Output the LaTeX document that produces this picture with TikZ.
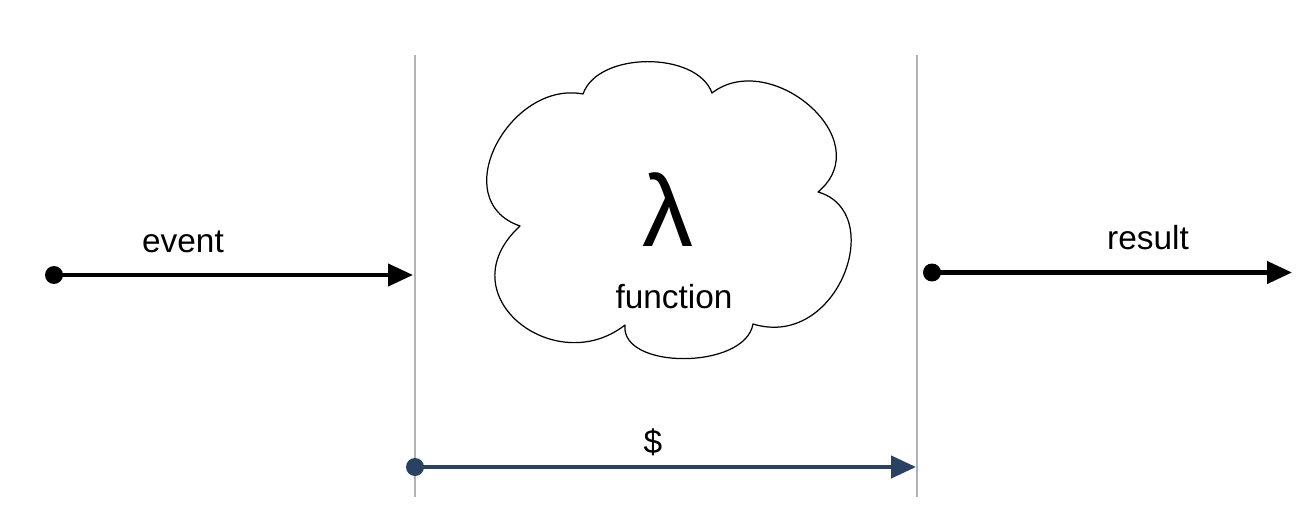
\documentclass[tikz,border=0pt]{standalone}
\usepackage{fontspec}
\setmainfont{Liberation Sans}
\usetikzlibrary{positioning}
\usetikzlibrary{arrows.meta}
\definecolor{costblue}{RGB}{43,65,98}

\begin{document}
\begin{tikzpicture}[x=0.02cm,y=-0.02cm,
  font=\fontsize{19}{22}\selectfont,
  boundary/.style={draw=gray!60,line width=0.6pt},
  fn-cloud/.style={draw,line width=0.7pt,line join=round},
  dot/.style={circle,fill,inner sep=0pt,minimum size=0.36cm},
  to/.style={-{Triangle[length=0.5cm,width=0.44cm]},line width=2.4pt},
  caption/.style={inner sep=0pt}]

  \useasboundingbox (0,0) rectangle (1314,510);

  \coordinate (in-top) at (415,55);
  \coordinate (in-bottom) at (415,497);
  \coordinate (out-top) at (917,55);
  \coordinate (out-bottom) at (917,497);
  \draw[boundary] (in-top) -- (in-bottom);
  \draw[boundary] (out-top) -- (out-bottom);

  \draw[fn-cloud] (583,94)
    .. controls (598,51) and (697,51) .. (712,93)
    .. controls (770,48) and (880,140) .. (818,192)
    .. controls (888,212) and (838,350) .. (753,324)
    .. controls (745,370) and (620,370) .. (625,325)
    .. controls (555,380) and (445,295) .. (520,226)
    .. controls (445,200) and (510,80) .. (583,94) -- cycle;
  \node[caption] (lambda) at (668,210) {\fontsize{58}{60}\selectfont λ};
  \node[caption] (function) at (674,297) {function};

  \node[dot] (event-src) at (54,275) {};
  \coordinate (event-dst) at (413,275);
  \node[caption] (event) at (183,242) {event};
  \draw[to] (event-src.center) -- (event-dst);

  \node[dot] (result-src) at (932,272.5) {};
  \coordinate (result-dst) at (1292,272.5);
  \node[caption] (result) at (1148,238) {result};
  \draw[to] (result-src.center) -- (result-dst);

  \node[dot,costblue] (cost-src) at (415,467) {};
  \coordinate (cost-dst) at (916,467);
  \node[caption] (cost) at (653,442) {\$};
  \draw[to,costblue] (cost-src.center) -- (cost-dst);
\end{tikzpicture}
\end{document}
